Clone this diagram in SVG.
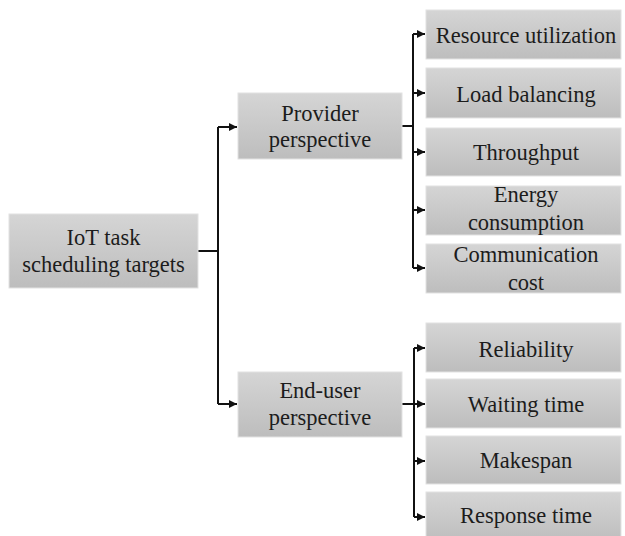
<svg xmlns="http://www.w3.org/2000/svg" width="625" height="536" viewBox="0 0 625 536">
<defs>
<linearGradient id="g" x1="0" y1="0" x2="0" y2="1">
<stop offset="0" stop-color="#d5d5d5"/>
<stop offset="1" stop-color="#bdbdbd"/>
</linearGradient>
<marker id="ah" viewBox="0 0 10 10" refX="10" refY="5" markerWidth="8" markerHeight="8" markerUnits="userSpaceOnUse" orient="auto">
<path d="M0,0 L10,5 L0,10 z" fill="#111"/>
</marker>
<style>
.box{fill:url(#g);stroke:#e2e2e2;stroke-width:1}
.t{font-family:"Liberation Serif","Times New Roman",serif;font-size:22.5px;fill:#1c1c1c;text-anchor:middle}
.c{fill:none;stroke:#111;stroke-width:2}
</style>
</defs>
<rect width="625" height="536" fill="#fff"/>
<g id="connectors">
<path class="c" d="M198,251 H218"/>
<path class="c" d="M218,127 V404"/>
<path class="c" d="M218,127 H237" marker-end="url(#ah)"/>
<path class="c" d="M218,404 H237" marker-end="url(#ah)"/>
<path class="c" d="M402,126 H413"/>
<path class="c" d="M413,34 V268"/>
<path class="c" d="M413,34 H425" marker-end="url(#ah)"/>
<path class="c" d="M413,93 H425" marker-end="url(#ah)"/>
<path class="c" d="M413,152 H425" marker-end="url(#ah)"/>
<path class="c" d="M413,210 H425" marker-end="url(#ah)"/>
<path class="c" d="M413,268 H425" marker-end="url(#ah)"/>
<path class="c" d="M402,404 H414"/>
<path class="c" d="M414,348 V517"/>
<path class="c" d="M414,348 H425" marker-end="url(#ah)"/>
<path class="c" d="M414,404 H425" marker-end="url(#ah)"/>
<path class="c" d="M414,461 H425" marker-end="url(#ah)"/>
<path class="c" d="M414,517 H425" marker-end="url(#ah)"/>
</g>
<g id="root"><rect class="box" x="9" y="214" width="189" height="74"/><text class="t" x="103.5" y="245">IoT task</text><text class="t" x="103.5" y="272">scheduling targets</text></g>
<g id="provider"><rect class="box" x="238" y="93" width="164" height="66"/><text class="t" x="320" y="121">Provider</text><text class="t" x="320" y="147">perspective</text></g>
<g id="enduser"><rect class="box" x="238" y="372" width="164" height="65"/><text class="t" x="320" y="398">End-user</text><text class="t" x="320" y="425">perspective</text></g>
<g id="resource"><rect class="box" x="426" y="10" width="195" height="49"/><text class="t" x="526" y="43">Resource utilization</text></g>
<g id="load"><rect class="box" x="426" y="68" width="195" height="50"/><text class="t" x="526" y="102">Load balancing</text></g>
<g id="throughput"><rect class="box" x="426" y="128" width="195" height="48"/><text class="t" x="526" y="160">Throughput</text></g>
<g id="energy"><rect class="box" x="426" y="186" width="195" height="49"/><text class="t" x="526" y="202">Energy</text><text class="t" x="526" y="230">consumption</text></g>
<g id="communication"><rect class="box" x="426" y="244" width="195" height="49"/><text class="t" x="526" y="262">Communication</text><text class="t" x="526" y="290">cost</text></g>
<g id="reliability"><rect class="box" x="426" y="323" width="195" height="49"/><text class="t" x="526" y="357">Reliability</text></g>
<g id="waiting"><rect class="box" x="426" y="379" width="195" height="49"/><text class="t" x="526" y="412">Waiting time</text></g>
<g id="makespan"><rect class="box" x="426" y="436" width="195" height="48"/><text class="t" x="526" y="468">Makespan</text></g>
<g id="response"><rect class="box" x="426" y="492" width="195" height="50"/><text class="t" x="526" y="523">Response time</text></g>
</svg>
